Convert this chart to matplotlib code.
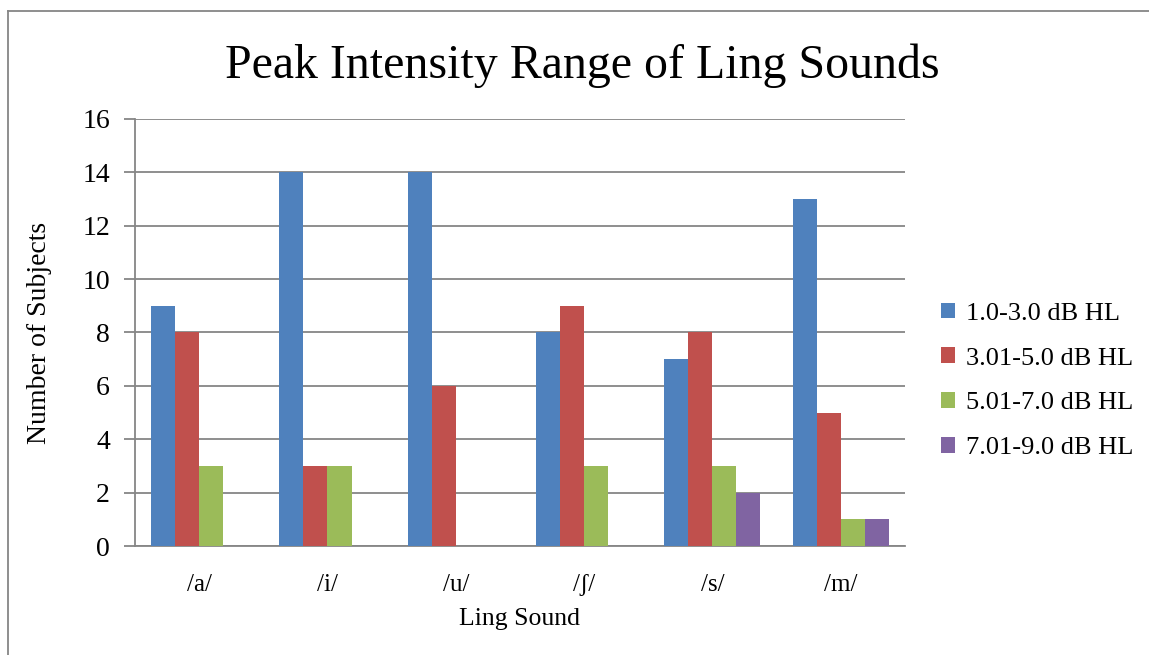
import numpy as np
import matplotlib.pyplot as plt
from matplotlib.lines import Line2D

# donnees
sounds = ["/a/", "/i/", "/u/", "/ʃ/", "/s/", "/m/"]
ranges = ["1.0-3.0 dB HL", "3.01-5.0 dB HL", "5.01-7.0 dB HL", "7.01-9.0 dB HL"]
r1 = [9, 14, 14, 8, 7, 13]
r2 = [8, 3, 6, 9, 8, 5]
r3 = [3, 3, 0, 3, 3, 1]
r4 = [0, 0, 0, 0, 2, 1]
colors = ["#4F81BD", "#C0504D", "#9BBB59", "#8064A2"]

plt.rcParams['font.family'] = ['Liberation Serif', 'DejaVu Serif']

fig = plt.figure(figsize=(11.49, 6.55), dpi=100)
ax = fig.add_axes([0.1175, 0.1664, 0.670, 0.652])

x = np.arange(len(sounds))
w = 0.1875
for i, serie in enumerate([r1, r2, r3, r4]):
    ax.bar(x + (i - 1.5) * w, serie, w, color=colors[i], label=ranges[i], zorder=3)

ax.set_xlim(-0.5, len(sounds) - 0.5)
ax.set_ylim(0, 16)
ax.set_yticks(range(0, 17, 2))
ax.set_xticks(x)
ax.set_xticklabels(sounds)
ax.grid(axis='y', color='#868686', lw=1.3, zorder=0)
for s in ['top', 'right']:
    ax.spines[s].set_visible(False)
for s in ['left', 'bottom']:
    ax.spines[s].set_color('#868686')
    ax.spines[s].set_linewidth(1.3)
ax.tick_params(axis='y', length=8, width=1.3, color='#868686', labelsize=20, pad=10)
ax.tick_params(axis='x', length=0, labelsize=18, pad=20)

fig.text(0.507, 0.899, "Peak Intensity Range of Ling Sounds", fontsize=34.5,
         ha='center', va='center')
ax.set_xlabel("Ling Sound", fontsize=18.5, labelpad=9)
ax.set_ylabel("Number of Subjects", fontsize=20, labelpad=22)

leg = ax.legend(loc='center left', bbox_to_anchor=(1.016, 0.387), frameon=False,
                fontsize=19, handlelength=0.55, handleheight=0.55,
                handletextpad=0.4, labelspacing=0.85)

# cadre du graphique
fig.add_artist(Line2D([0.007, 0.007], [0, 0.983], color='#868686', lw=1.3))
fig.add_artist(Line2D([0.007, 1.0], [0.983, 0.983], color='#868686', lw=1.3))

fig.savefig("out.png", dpi=100)
